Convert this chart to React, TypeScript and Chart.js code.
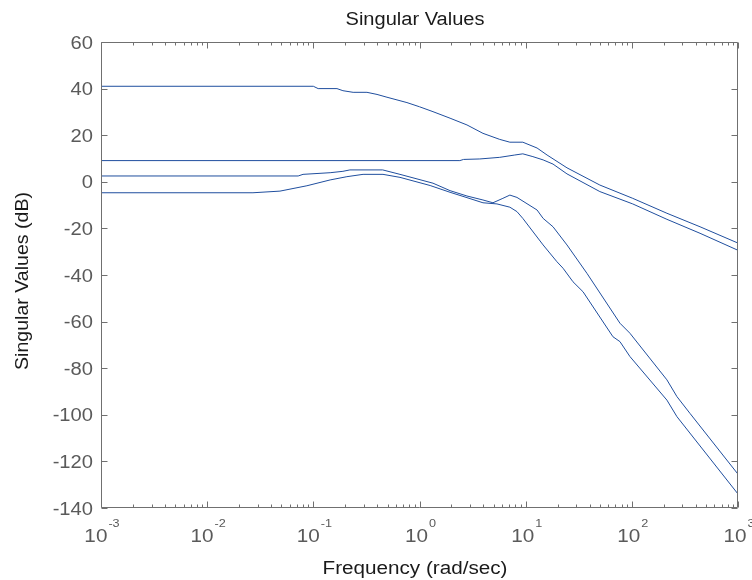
import React, { useEffect, useRef } from "react";
import { Chart, registerables } from "chart.js";

Chart.register(...registerables);

// ---- data ----
const freqA = [0.001, 0.1, 0.111, 0.167, 0.19, 0.237, 0.32, 0.398, 0.494, 0.762, 1, 1.34, 1.94, 2.8, 3.96, 5.7, 7.1, 9.4, 12.8, 15.9, 24.5, 50, 102, 214, 439, 1000];
const dbA = [41, 41, 40, 40, 39.1, 38.4, 38.4, 37.5, 36.3, 34, 32.2, 30.1, 27.3, 24.4, 20.8, 18.2, 17, 17, 14.5, 11.5, 6, -1.4, -7.1, -13.5, -19.3, -26.3];

const freqB = [0.001, 2.4, 2.6, 3.7, 5.7, 7.9, 9.4, 11.7, 14.6, 18.1, 24.5, 50, 102, 214, 439, 1000];
const dbB = [9.1, 9.1, 9.6, 9.8, 10.5, 11.5, 12, 10.8, 9.4, 7.6, 3.4, -4.2, -9.5, -16.1, -22.1, -29.4];

const freqC = [0.001, 0.072, 0.08, 0.144, 0.19, 0.221, 0.45, 0.655, 1.34, 1.94, 2.8, 3.96, 4.92, 6.1, 7.1, 8.28, 12.8, 14.6, 18.1, 24.5, 37.8, 77.3, 96, 214, 266, 353, 1000];
const dbC = [2.5, 2.5, 3.2, 3.9, 4.5, 5.1, 5.1, 3.2, -0.6, -3.8, -6.1, -7.8, -9, -7.1, -5.7, -6.7, -12.1, -15.7, -19.3, -27.1, -39.3, -60.7, -65, -85, -92.2, -99.4, -125.5];

const freqD = [0.001, 0.027, 0.0485, 0.087, 0.144, 0.207, 0.294, 0.453, 0.655, 1.26, 1.94, 2.8, 3.96, 5.37, 7.1, 8.28, 9.4, 14.6, 19.7, 22.5, 27.9, 34.7, 66.4, 77.3, 96, 214, 266, 1000];
const dbD = [-4.7, -4.7, -4, -1.7, 0.8, 2.2, 3.2, 3.2, 1.9, -1.6, -4.5, -6.8, -9, -9.5, -10.9, -12.8, -15.7, -27.1, -34.3, -37.1, -42.9, -47.2, -66.5, -68.6, -75, -93.7, -100.8, -134];

const yTickValues = [60, 40, 20, 0, -20, -40, -60, -80, -100, -120, -140];
const xDecadeExponents = [-3, -2, -1, 0, 1, 2, 3];
const minorMultipliers = [2, 3, 4, 5, 6, 7, 8, 9];

const titleText = "Singular Values";
const xLabelText = "Frequency (rad/sec)";
const yLabelText = "Singular Values (dB)";

const LINE_COLOR = "#1f4e9e";
const AXIS_COLOR = "#707070";
const TICK_TEXT = "#5a5a5a";
const LABEL_TEXT = "#1a1a1a";
const FONT = '"Liberation Sans", Arial, Helvetica, sans-serif';

function toPoints(f: number[], v: number[]) {
  return f.map((x, i) => ({ x, y: v[i] }));
}

function drawScaled(ctx: CanvasRenderingContext2D, s: string, x: number, y: number, font: string, color: string, align: CanvasTextAlign, sx: number) {
  ctx.save();
  ctx.font = font;
  ctx.fillStyle = color;
  ctx.textBaseline = "alphabetic";
  ctx.textAlign = align;
  ctx.translate(x, y);
  ctx.scale(sx, 1);
  ctx.fillText(s, 0, 0);
  ctx.restore();
}

function drawToWidth(ctx: CanvasRenderingContext2D, s: string, x: number, y: number, font: string, color: string, targetW: number, rotate = 0) {
  ctx.save();
  ctx.font = font;
  const w = ctx.measureText(s).width;
  const sx = targetW / w;
  ctx.fillStyle = color;
  ctx.textBaseline = "alphabetic";
  ctx.textAlign = "center";
  ctx.translate(x, y);
  if (rotate) ctx.rotate(rotate);
  ctx.scale(sx, 1);
  ctx.fillText(s, 0, 0);
  ctx.restore();
}

const framePlugin = {
  id: "matlabFrame",
  afterDraw(chart: any) {
    const { ctx, chartArea: a, scales } = chart;
    const xs = scales.x;
    const ys = scales.y;
    const L = Math.floor(a.left) + 0.5;
    const R = Math.floor(a.right) - 0.5;
    const T = Math.floor(a.top) + 0.5;
    const B = Math.floor(a.bottom) - 0.5;
    ctx.save();
    ctx.strokeStyle = AXIS_COLOR;
    ctx.lineWidth = 1;
    ctx.beginPath();
    ctx.rect(L, T, R - L, B - T);
    ctx.stroke();

    const seg = (x1: number, y1: number, x2: number, y2: number) => {
      ctx.beginPath();
      ctx.moveTo(x1, y1);
      ctx.lineTo(x2, y2);
      ctx.stroke();
    };

    // y ticks (left and right, inward)
    for (const v of yTickValues) {
      const y = Math.round(ys.getPixelForValue(v)) + 0.5;
      seg(L, y, L + 6, y);
      seg(R - 6, y, R, y);
    }
    // x ticks (top and bottom, inward), major + minor
    for (const e of xDecadeExponents) {
      const base = Math.pow(10, e);
      const x = Math.round(xs.getPixelForValue(base)) + 0.5;
      seg(x, B, x, B - 6);
      seg(x, T, x, T + 6);
      if (e < 3) {
        for (const m of minorMultipliers) {
          const xm = Math.round(xs.getPixelForValue(m * base)) + 0.5;
          seg(xm, B, xm, B - 3);
          seg(xm, T, xm, T + 3);
        }
      }
    }

    // y tick labels
    for (const v of yTickValues) {
      const y = ys.getPixelForValue(v);
      drawScaled(ctx, String(v), 93, y + 6.5, `18px ${FONT}`, TICK_TEXT, "right", 1.12);
    }
    // x tick labels 10^e
    for (const e of xDecadeExponents) {
      const x = xs.getPixelForValue(Math.pow(10, e));
      const sx = 1.15;
      ctx.font = `18px ${FONT}`;
      const wBase = ctx.measureText("10").width * sx;
      ctx.font = `11px ${FONT}`;
      const sup = String(e);
      const wSup = ctx.measureText(sup).width * sx;
      const total = wBase + 1 + wSup;
      const start = x - total / 2 + 1;
      drawScaled(ctx, "10", start, 542, `18px ${FONT}`, TICK_TEXT, "left", sx);
      drawScaled(ctx, sup, start + wBase + 1, 527, `11px ${FONT}`, TICK_TEXT, "left", sx);
    }

    // title and axis labels
    drawToWidth(ctx, titleText, 415, 25, `18px ${FONT}`, LABEL_TEXT, 139);
    drawToWidth(ctx, xLabelText, 415, 574, `18px ${FONT}`, LABEL_TEXT, 185);
    drawToWidth(ctx, yLabelText, 28, 281, `18px ${FONT}`, LABEL_TEXT, 178, -Math.PI / 2);

    ctx.restore();
  },
};

export default function App() {
  const ref = useRef<HTMLCanvasElement | null>(null);

  useEffect(() => {
    if (!ref.current) return;
    const series = [
      toPoints(freqA, dbA),
      toPoints(freqB, dbB),
      toPoints(freqC, dbC),
      toPoints(freqD, dbD),
    ];
    const chart = new Chart(ref.current, {
      type: "scatter",
      data: {
        datasets: series.map((d) => ({
          data: d,
          showLine: true,
          borderColor: LINE_COLOR,
          backgroundColor: LINE_COLOR,
          borderWidth: 1,
          pointRadius: 0,
          pointHoverRadius: 0,
          tension: 0,
          fill: false,
        })),
      },
      options: {
        animation: false,
        responsive: false,
        maintainAspectRatio: false,
        events: [],
        layout: { padding: { left: 0, right: 14, top: 42, bottom: 0 } },
        plugins: {
          legend: { display: false },
          tooltip: { enabled: false },
          title: { display: false },
        },
        scales: {
          x: {
            type: "logarithmic",
            min: 0.001,
            max: 1000,
            ticks: { display: false },
            grid: { display: false, drawTicks: false },
            border: { display: false },
            afterFit: (s: any) => {
              s.height = 72;
            },
          },
          y: {
            type: "linear",
            min: -140,
            max: 60,
            ticks: { display: false },
            grid: { display: false, drawTicks: false },
            border: { display: false },
            afterFit: (s: any) => {
              s.width = 101;
            },
          },
        },
      },
      plugins: [framePlugin],
    } as any);
    return () => chart.destroy();
  }, []);

  return (
    <div style={{ position: "fixed", left: 0, top: 0, width: 752, height: 580, background: "#fff" }}>
      <canvas ref={ref} width={752} height={580} style={{ width: 752, height: 580, display: "block" }} />
    </div>
  );
}
